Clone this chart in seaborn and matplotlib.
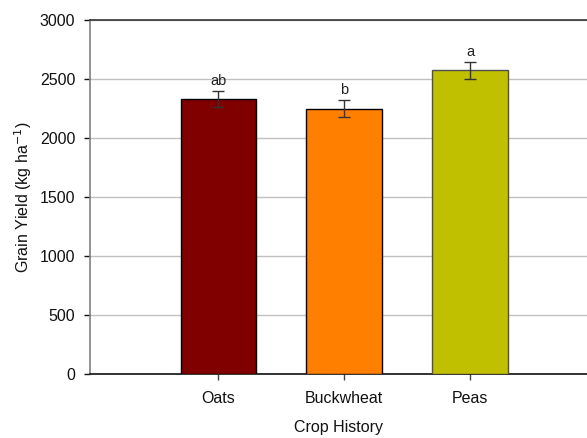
import matplotlib
matplotlib.use("Agg")
import matplotlib.pyplot as plt
import seaborn as sns
import pandas as pd

crops = ["Oats", "Buckwheat", "Peas"]
yields = [2333, 2250, 2573]
errors = [68, 72, 72]
letters = ["ab", "b", "a"]
colors = ["#800000", "#FF8000", "#C0C000"]
edges = ["#000000", "#000000", "#505050"]
yticks = [0, 500, 1000, 1500, 2000, 2500, 3000]

sns.set_theme(style="white")
plt.rcParams["font.family"] = ["Liberation Sans", "DejaVu Sans"]

df = pd.DataFrame({"Crop": crops, "Yield": yields})

fig = plt.figure(figsize=(5.87, 4.38), dpi=100)
ax = fig.add_axes([0.1533, 0.1461, 0.8467, 0.8082])

sns.barplot(data=df, x="Crop", y="Yield", hue="Crop", palette=colors,
            order=crops, hue_order=crops, width=0.6, saturation=1,
            legend=False, errorbar=None, ax=ax, zorder=3)
for patch, ec in zip(ax.patches, edges):
    patch.set_edgecolor(ec)
    patch.set_linewidth(1.0)

ax.errorbar(range(len(crops)), yields, yerr=errors, fmt="none",
            ecolor="#333333", elinewidth=1, capsize=4, capthick=1, zorder=4)
for i, (v, e, l) in enumerate(zip(yields, errors, letters)):
    ax.text(i, v + e + 25, l, ha="center", va="bottom", fontsize=10.5, color="#222222")

ax.set_ylim(0, 3000)
ax.set_xlim(-1.02, 2.93)
ax.set_yticks(yticks)
ax.yaxis.grid(True, color="#c0c0c0", linewidth=1, zorder=0)
ax.set_axisbelow(True)

ax.spines["right"].set_visible(False)
ax.spines["left"].set_color("#808080")
ax.spines["left"].set_linewidth(1.2)
ax.spines["bottom"].set_color("#111111")
ax.spines["bottom"].set_linewidth(1.2)
ax.spines["top"].set_color("#333333")
ax.spines["top"].set_linewidth(1.2)

ax.tick_params(axis="y", which="major", direction="out", length=4, width=1,
               color="#111111", left=True, labelsize=11.5, labelcolor="#111111", pad=6.5)
ax.tick_params(axis="x", which="major", direction="out", length=4, width=1,
               color="#444444", bottom=True, labelsize=11.5, labelcolor="#111111", pad=8)

ax.set_xlabel("Crop History", fontsize=11.5, color="#111111", labelpad=10)
ax.set_ylabel("Grain Yield (kg ha$^{-1}$)", fontsize=11.5, color="#111111", labelpad=4)

fig.savefig("out.png", dpi=100)
